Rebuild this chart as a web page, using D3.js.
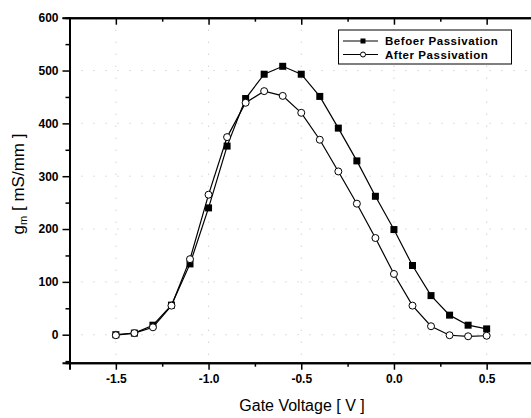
<!DOCTYPE html>
<html><head><meta charset="utf-8">
<script src="https://cdn.jsdelivr.net/npm/d3@7"></script>
<style>body{margin:0;background:#fff}svg{display:block}</style>
</head><body>
<script>
const voltages = [-1.5,-1.4,-1.3,-1.2,-1.1,-1.0,-0.9,-0.8,-0.7,-0.6,-0.5,-0.4,-0.3,-0.2,-0.1,0.0,0.1,0.2,0.3,0.4,0.5];
const beforeValues = [0,3,18,56,134,240,357,447,493,508,493,451,391,329,262,199,131,74,37,18,11];
const afterValues  = [-1,3,14,55,143,265,374,439,461,452,420,369,309,248,183,115,55,16,-1,-3,-2];
const seriesNames = ["Befoer Passivation","After Passivation"];
const xTicks = [-1.5,-1.0,-0.5,0.0,0.5];
const xTickLabels = ["-1.5","-1.0","-0.5","0.0","0.5"];
const yTicks = [0,100,200,300,400,500,600];
const xTitle = "Gate Voltage [ V ]";

const W = 531, H = 418;
const svg = d3.select("body").append("svg").attr("width", W).attr("height", H);
const x = d3.scaleLinear().domain([-1.75, 0.75]).range([69.5, 533]);
const y = d3.scaleLinear().domain([-53, 600]).range([362.7, 17.7]);

const font = "'Liberation Sans', Arial, sans-serif";

// grid (faint dotted)
const grid = svg.append("g").attr("stroke", "#999").attr("stroke-width", 1).attr("stroke-dasharray", "1,11").attr("opacity", 0.6);
xTicks.forEach(t => grid.append("line").attr("x1", x(t)).attr("x2", x(t)).attr("y1", y(600)).attr("y2", y(-53)));
yTicks.forEach(t => grid.append("line").attr("x1", x(-1.75)).attr("x2", x(0.75)).attr("y1", y(t)).attr("y2", y(t)));

// axes
const minorX = d3.range(-1.75, 0.76, 0.25).map(v => +v.toFixed(2));
const minorY = d3.range(-50, 601, 50);

const xAxisMajor = d3.axisBottom(x).tickValues(xTicks).tickFormat((d,i) => xTickLabels[i]).tickSize(7).tickPadding(5);
const gx = svg.append("g").attr("transform", `translate(0,${y(-53)})`).call(xAxisMajor);
const gxm = svg.append("g").attr("transform", `translate(0,${y(-53)})`).call(d3.axisBottom(x).tickValues(minorX.filter(v => !xTicks.includes(v))).tickFormat("").tickSize(4));

const yAxisMajor = d3.axisLeft(y).tickValues(yTicks).tickSize(7).tickPadding(4);
const gy = svg.append("g").attr("transform", `translate(${x(-1.75)},0)`).call(yAxisMajor);
const gym = svg.append("g").attr("transform", `translate(${x(-1.75)},0)`).call(d3.axisLeft(y).tickValues(minorY.filter(v => !yTicks.includes(v))).tickFormat("").tickSize(4));

const gtop = svg.append("g").attr("transform", `translate(0,${y(600)})`).call(d3.axisBottom(x).tickValues(xTicks).tickFormat("").tickSize(7));
const gtopm = svg.append("g").attr("transform", `translate(0,${y(600)})`).call(d3.axisBottom(x).tickValues(minorX.filter(v => !xTicks.includes(v))).tickFormat("").tickSize(4));

[gx, gxm, gy, gym, gtop, gtopm].forEach(g => {
  g.select(".domain").attr("stroke", "#000").attr("stroke-width", 2);
  g.selectAll(".tick line").attr("stroke", "#000").attr("stroke-width", 1.5);
  g.selectAll("text").attr("font-family", font).attr("font-weight", "bold").attr("font-size", 12).attr("fill", "#000");
});

// lines
const line = d3.line().x((d,i) => x(voltages[i])).y(d => y(d));
svg.append("path").datum(beforeValues).attr("d", line).attr("fill", "none").attr("stroke", "#000").attr("stroke-width", 1.2);
svg.append("path").datum(afterValues).attr("d", line).attr("fill", "none").attr("stroke", "#000").attr("stroke-width", 1.2);

// markers
const ms = 7;
svg.append("g").selectAll("rect").data(beforeValues).join("rect")
  .attr("x", (d,i) => x(voltages[i]) - ms/2).attr("y", d => y(d) - ms/2)
  .attr("width", ms).attr("height", ms).attr("fill", "#000");
svg.append("g").selectAll("circle").data(afterValues).join("circle")
  .attr("cx", (d,i) => x(voltages[i])).attr("cy", d => y(d)).attr("r", 3.5)
  .attr("fill", "#fff").attr("stroke", "#000").attr("stroke-width", 1);

// legend
const lg = svg.append("g");
lg.append("rect").attr("x", 338.5).attr("y", 30).attr("width", 173).attr("height", 34).attr("fill", "#fff").attr("stroke", "#000").attr("stroke-width", 1);
[41, 54.5].forEach((ly, i) => {
  lg.append("line").attr("x1", 343).attr("x2", 378).attr("y1", ly).attr("y2", ly).attr("stroke", "#000").attr("stroke-width", 1);
  if (i === 0) lg.append("rect").attr("x", 363 - 2.5).attr("y", ly - 2.5).attr("width", 5).attr("height", 5).attr("fill", "#000");
  else lg.append("circle").attr("cx", 363).attr("cy", ly).attr("r", 2.5).attr("fill", "#fff").attr("stroke", "#000");
  lg.append("text").attr("x", 385).attr("y", ly + 4.2).attr("font-family", font).attr("font-weight", "bold").attr("font-size", 11.5).attr("letter-spacing", 0.55).text(seriesNames[i]);
});

// titles
svg.append("text").attr("x", 302).attr("y", 411).attr("text-anchor", "middle").attr("font-family", font).attr("font-size", 16).text(xTitle);
const yt = svg.append("text").attr("transform", "translate(24,184) rotate(-90)").attr("text-anchor", "middle").attr("font-family", font).attr("font-size", 17);
yt.append("tspan").text("g");
yt.append("tspan").attr("font-size", 11).attr("dy", 3).text("m");
yt.append("tspan").attr("dy", -3).text(" [ mS/mm ]");
</script>
</body></html>
